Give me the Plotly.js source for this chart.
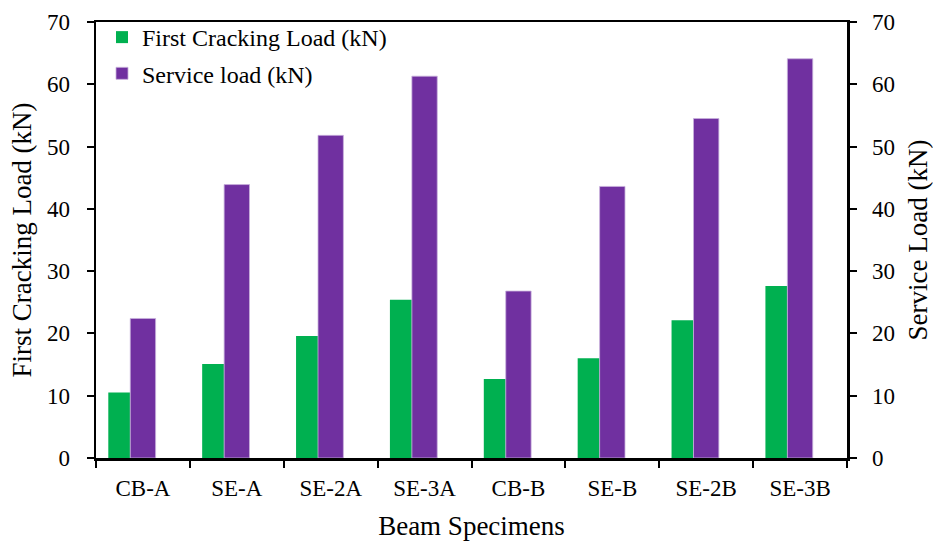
<!DOCTYPE html>
<html>
<head>
<meta charset="utf-8">
<script src="https://cdn.plot.ly/plotly-3.0.1.min.js"></script>
<style>html,body{margin:0;padding:0;background:#fff;}#chart{width:933px;height:543px;}</style>
</head>
<body>
<div id="chart"></div>
<script>
const categories = ["CB-A", "SE-A", "SE-2A", "SE-3A", "CB-B", "SE-B", "SE-2B", "SE-3B"];
const firstCracking = [10.5, 15.1, 19.6, 25.4, 12.7, 16.0, 22.1, 27.6];
const serviceLoad = [22.4, 43.9, 51.8, 61.3, 26.8, 43.6, 54.5, 64.1];
const yTicks = [0, 10, 20, 30, 40, 50, 60, 70];

const FONT = "Liberation Serif, Times New Roman, serif";
const n = categories.length;

const traces = [
  {
    type: "bar", name: "First Cracking Load (kN)", x: categories, y: firstCracking,
    xaxis: "x", yaxis: "y", legendgroup: "a",
    width: Array(n).fill(0.234), offset: Array(n).fill(-0.369),
    marker: {color: "#00B050", line: {width: 0}}
  },
  {
    type: "bar", name: "Service load (kN)", x: categories, y: serviceLoad,
    xaxis: "x", yaxis: "y2", legendgroup: "b",
    width: Array(n).fill(0.27), offset: Array(n).fill(-0.135),
    marker: {color: "#7030A0", line: {width: 0.8, color: "#C8B0DC"}}
  }
];

const layout = {
  width: 933, height: 543,
  margin: {l: 96, r: 86, t: 22, b: 85, pad: 0},
  paper_bgcolor: "#fff", plot_bgcolor: "#fff",
  font: {family: FONT, size: 23, color: "#000"},
  barmode: "overlay",
  showlegend: true,
  legend: {
    x: 0.008, y: 1.016, xanchor: "left", yanchor: "top",
    bgcolor: "rgba(0,0,0,0)", font: {family: FONT, size: 24, color: "#000"},
    traceorder: "grouped", tracegroupgap: 2, itemwidth: 30
  },
  xaxis: {
    type: "category", tickson: "boundaries", ticks: "outside", ticklen: 7, tickwidth: 2, tickcolor: "#000",
    showline: true, linecolor: "#000", linewidth: 2.5, mirror: true, showgrid: false, zeroline: false,
    ticklabelstandoff: 8,
    tickfont: {family: FONT, size: 23, color: "#000"},
    title: {text: "Beam Specimens", font: {family: FONT, size: 27, color: "#000"}, standoff: 16}
  },
  yaxis: {
    range: [0, 70], tickvals: yTicks, ticks: "outside", ticklen: 7, tickwidth: 2, tickcolor: "#000",
    showline: true, linecolor: "#000", linewidth: 2.5, showgrid: false, zeroline: false,
    ticklabelstandoff: 12,
    tickfont: {family: FONT, size: 23, color: "#000"},
    title: {text: "First Cracking Load (kN)", font: {family: FONT, size: 27, color: "#000"}, standoff: 8}
  },
  yaxis2: {
    range: [0, 70], tickvals: yTicks, overlaying: "y", side: "right", anchor: "x",
    ticks: "outside", ticklen: 7, tickwidth: 2, tickcolor: "#000",
    showline: true, linecolor: "#000", linewidth: 2.5, showgrid: false, zeroline: false,
    ticklabelstandoff: 11,
    tickfont: {family: FONT, size: 23, color: "#000"},
    title: {text: "Service Load (kN)", font: {family: FONT, size: 27, color: "#000"}, standoff: 15}
  }
};

Plotly.newPlot("chart", traces, layout, {displayModeBar: false, staticPlot: true});
</script>
</body>
</html>
